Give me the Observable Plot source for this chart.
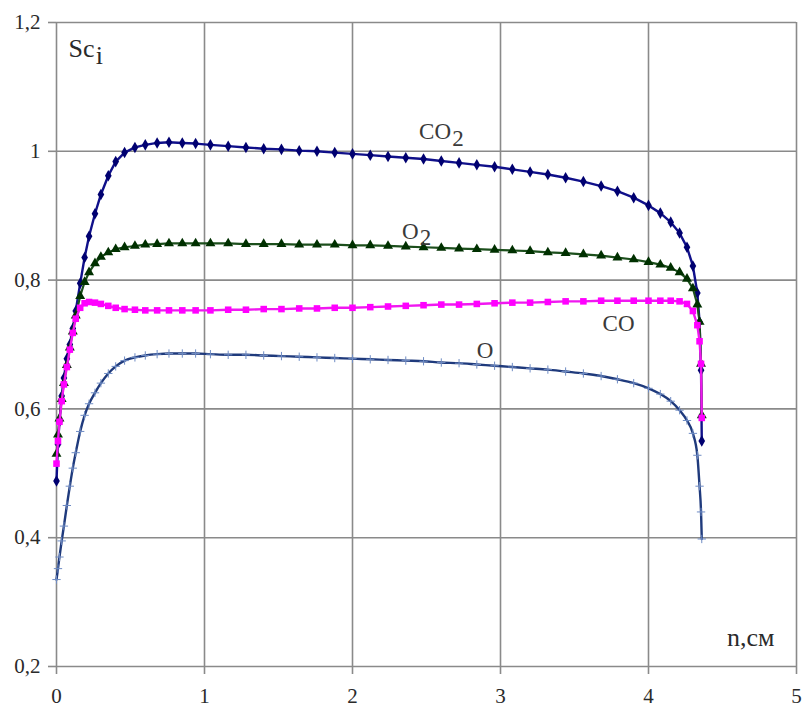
<!DOCTYPE html>
<html>
<head>
<meta charset="utf-8">
<script src="https://cdn.jsdelivr.net/npm/d3@7"></script>
<script src="https://cdn.jsdelivr.net/npm/@observablehq/plot@0.6"></script>
<style>
  html, body { margin: 0; padding: 0; background: #fff; }
  #chart { width: 803px; height: 708px; }
  #chart svg, #chart svg text { font-family: "Liberation Serif", "Times New Roman", serif !important; }
</style>
</head>
<body>
<div id="chart"></div>
<script>
// ---- data ----
const xs = [0, 0.01, 0.02, 0.035, 0.05, 0.07, 0.09, 0.11, 0.13, 0.16, 0.19, 0.22, 0.26, 0.30, 0.35, 0.40, 0.46, 0.53, 0.60, 0.68, 0.76, 0.85, 0.94, 1.04, 1.16, 1.28, 1.40, 1.52, 1.64, 1.76, 1.88, 2.00, 2.12, 2.24, 2.36, 2.48, 2.60, 2.72, 2.84, 2.96, 3.08, 3.20, 3.32, 3.44, 3.56, 3.68, 3.79, 3.90, 4.00, 4.08, 4.15, 4.21, 4.26, 4.30, 4.33, 4.345, 4.355, 4.36];

const co2 = [0.488, 0.545, 0.58, 0.62, 0.648, 0.678, 0.70, 0.725, 0.752, 0.795, 0.835, 0.868, 0.903, 0.933, 0.962, 0.984, 0.998, 1.006, 1.010, 1.013, 1.014, 1.013, 1.012, 1.010, 1.008, 1.006, 1.004, 1.003, 1.001, 1.000, 0.998, 0.996, 0.994, 0.992, 0.990, 0.988, 0.985, 0.982, 0.979, 0.976, 0.972, 0.968, 0.964, 0.959, 0.953, 0.946, 0.938, 0.928, 0.916, 0.904, 0.890, 0.873, 0.851, 0.822, 0.78, 0.735, 0.66, 0.55];

const o2 = [0.53, 0.56, 0.585, 0.615, 0.64, 0.668, 0.695, 0.72, 0.745, 0.775, 0.797, 0.812, 0.826, 0.836, 0.843, 0.848, 0.851, 0.853, 0.855, 0.856, 0.857, 0.857, 0.857, 0.857, 0.857, 0.856, 0.856, 0.856, 0.855, 0.855, 0.855, 0.854, 0.854, 0.853, 0.852, 0.851, 0.850, 0.849, 0.848, 0.847, 0.846, 0.845, 0.843, 0.842, 0.840, 0.838, 0.835, 0.832, 0.828, 0.824, 0.819, 0.812, 0.802, 0.787, 0.762, 0.735, 0.67, 0.59];

const co = [0.515, 0.55, 0.58, 0.612, 0.638, 0.665, 0.692, 0.718, 0.74, 0.757, 0.764, 0.766, 0.765, 0.763, 0.760, 0.757, 0.755, 0.754, 0.753, 0.753, 0.753, 0.753, 0.753, 0.753, 0.754, 0.754, 0.755, 0.755, 0.756, 0.756, 0.757, 0.757, 0.758, 0.759, 0.760, 0.761, 0.762, 0.762, 0.763, 0.764, 0.765, 0.765, 0.766, 0.767, 0.767, 0.768, 0.768, 0.768, 0.768, 0.768, 0.768, 0.767, 0.763, 0.752, 0.73, 0.705, 0.67, 0.586];

const o = [0.335, 0.352, 0.37, 0.395, 0.418, 0.45, 0.48, 0.508, 0.532, 0.565, 0.59, 0.608, 0.625, 0.64, 0.655, 0.666, 0.675, 0.68, 0.683, 0.685, 0.686, 0.686, 0.686, 0.685, 0.684, 0.684, 0.683, 0.682, 0.681, 0.680, 0.679, 0.678, 0.677, 0.676, 0.675, 0.674, 0.672, 0.671, 0.669, 0.667, 0.665, 0.663, 0.661, 0.658, 0.655, 0.651, 0.646, 0.640, 0.632, 0.623, 0.612, 0.598, 0.582, 0.562, 0.528, 0.48, 0.44, 0.398];

const xTicks = [0, 1, 2, 3, 4, 5];
const yTicks = [0.2, 0.4, 0.6, 0.8, 1, 1.2];

// annotation anchors (data units); "_" separates subscript
const seriesLabels = [
  {text: "CO_2", x: 2.45, y: 1.030},
  {text: "O_2", x: 2.335, y: 0.876},
  {text: "CO", x: 3.69, y: 0.732},
  {text: "O", x: 2.84, y: 0.690}
];
const axisLabels = [
  {text: "Sc_i", x: 0.081, y: 1.160},
  {text: "n,см", x: 4.53, y: 0.244}
];

// ---- build ----
const toRows = ys => xs.map((x, i) => ({x, y: ys[i]}));
const dCO2 = toRows(co2), dO2 = toRows(o2), dCO = toRows(co), dO = toRows(o);
const fmt = d => String(d).replace(".", ",");

const chart = Plot.plot({
  width: 803,
  height: 708,
  marginTop: 22,
  marginRight: 7,
  marginBottom: 42,
  marginLeft: 56,
  style: {fontSize: "21px", color: "#2a2a2a", background: "#fff"},
  x: {domain: [0, 5], ticks: xTicks, tickFormat: fmt, tickSize: 8, tickPadding: 14, label: null},
  y: {domain: [0.2, 1.2], ticks: yTicks, tickFormat: fmt, tickSize: 8, tickPadding: 8, label: null},
  marks: [
    Plot.ruleX(xTicks, {stroke: "#8a8a8a", strokeWidth: 1.6}),
    Plot.ruleY(yTicks, {stroke: "#8a8a8a", strokeWidth: 1.6}),

    Plot.line(dCO2, {x: "x", y: "y", stroke: "#10108a", strokeWidth: 2.4}),
    Plot.dot(dCO2, {x: "x", y: "y", symbol: "diamond", r: 3.5, fill: "#000070", stroke: "none"}),

    Plot.line(dO2, {x: "x", y: "y", stroke: "#1c4f1c", strokeWidth: 2.2}),
    Plot.dot(dO2, {x: "x", y: "y", symbol: "triangle", r: 3.7, fill: "#003000", stroke: "none"}),

    Plot.line(dCO, {x: "x", y: "y", stroke: "#f018f0", strokeWidth: 2.4}),
    Plot.dot(dCO, {x: "x", y: "y", symbol: "square", r: 3.7, fill: "#ff00ff", stroke: "none"}),

    Plot.line(dO, {x: "x", y: "y", stroke: "#1f3a7c", strokeWidth: 2.4, curve: "monotone-x"}),
    Plot.dot(dO, {x: "x", y: "y", symbol: "plus", r: 2.8, stroke: "#6f8cc4", strokeWidth: 1}),

    Plot.text(seriesLabels, {x: "x", y: "y", text: "text", textAnchor: "start", lineAnchor: "middle", fontSize: 23, fill: "#3a3a3a"}),
    Plot.text(axisLabels, {x: "x", y: "y", text: "text", textAnchor: "start", lineAnchor: "middle", fontSize: 26, fill: "#2a2a2a"})
  ]
});

// subscripts
d3.select(chart).selectAll("text").each(function () {
  const t = this.textContent;
  if (t.includes("_")) {
    const [a, b] = t.split("_");
    const s = d3.select(this);
    s.text(null);
    s.append("tspan").text(a);
    s.append("tspan").attr("dy", "0.3em").attr("dx", "0.05em").text(b);
  }
});
// tick marks in grid gray
d3.select(chart).selectAll('g[aria-label$="tick"]').attr("stroke", "#8a8a8a").attr("stroke-width", 1.6);

document.getElementById("chart").appendChild(chart);
</script>
</body>
</html>
